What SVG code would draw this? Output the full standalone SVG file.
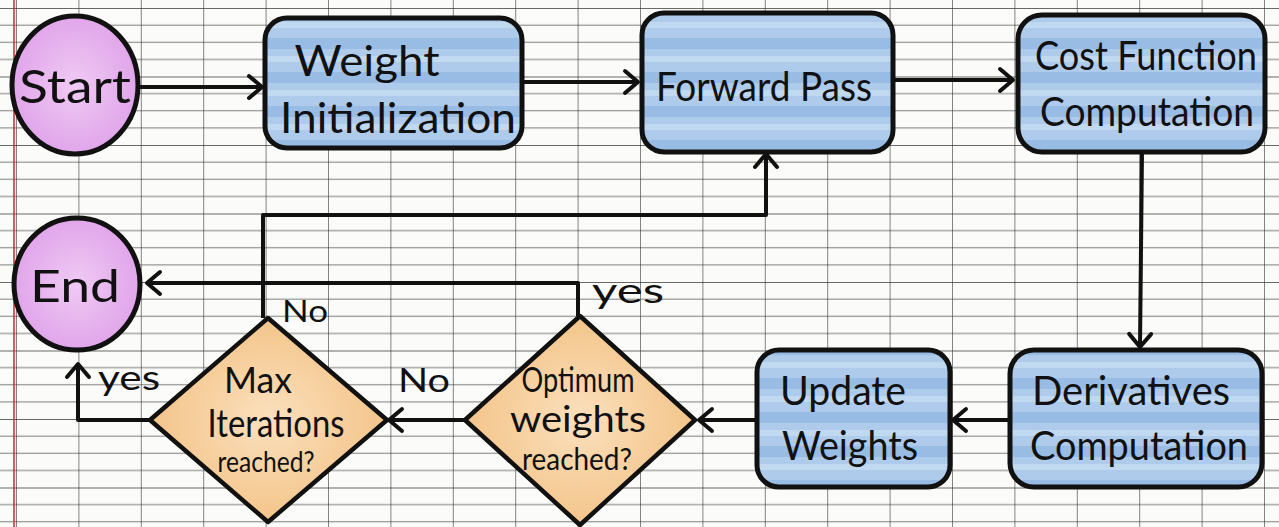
<svg xmlns="http://www.w3.org/2000/svg" width="1279" height="527" viewBox="0 0 1279 527">
<style>
.box{stroke:#111;stroke-width:5;fill:url(#blue)}
.dia{stroke:#111;stroke-width:4.5;fill:url(#orange);stroke-linejoin:round}
.term{stroke:#111;stroke-width:5;fill:url(#pink)}
.conn{stroke:#111;stroke-width:4;fill:none;stroke-linejoin:round;marker-end:url(#arr)}
text{font-family:Lato,"Liberation Sans",sans-serif;fill:#111;text-anchor:middle}
</style>
<defs>
<pattern id="hgrid" patternUnits="userSpaceOnUse" x="0" y="8" width="1279" height="68.5">
<rect x="0" y="-0.9" width="1279" height="1.8" fill="#3a3a3a" opacity="0.85"/>
<rect x="0" y="16.6" width="1279" height="1.1" fill="#555" opacity="0.7"/>
<rect x="0" y="33.7" width="1279" height="1.1" fill="#555" opacity="0.7"/>
<rect x="0" y="50.9" width="1279" height="1.1" fill="#555" opacity="0.7"/>
</pattern>
<pattern id="vgrid" patternUnits="userSpaceOnUse" x="16" y="0" width="62.4" height="527">
<rect x="-0.75" y="0" width="1.5" height="527" fill="#333" opacity="0.8"/>
</pattern>
<pattern id="blue" patternUnits="userSpaceOnUse" x="0" y="0" width="200" height="34">
<rect width="200" height="34" fill="#aecbec"/>
<rect y="4" width="200" height="11" fill="#8fb6e2" opacity="0.7"/>
<rect y="22" width="200" height="6" fill="#c6dbf3" opacity="0.8"/>
</pattern>
<radialGradient id="orange" cx="50%" cy="50%" r="60%">
<stop offset="0" stop-color="#fbe0bd"/>
<stop offset="1" stop-color="#f2bf80"/>
</radialGradient>
<radialGradient id="pink" cx="50%" cy="50%" r="60%">
<stop offset="0" stop-color="#f0caf4"/>
<stop offset="1" stop-color="#dd9ee8"/>
</radialGradient>
<marker id="arr" markerUnits="userSpaceOnUse" viewBox="-20 -15 26 30" refX="0" refY="0" markerWidth="26" markerHeight="30" orient="auto" overflow="visible">
<path d="M-13,-11 L0,0 L-13,11" fill="none" stroke="#111" stroke-width="4" stroke-linecap="round" stroke-linejoin="round"/>
</marker>
</defs>
<rect width="1279" height="527" fill="#fbfbf9"/>
<rect width="1279" height="527" fill="url(#hgrid)"/>
<rect width="1279" height="527" fill="url(#vgrid)"/>
<line x1="14" y1="0" x2="14" y2="527" stroke="#d8202a" stroke-width="1.5"/>

<g id="connectors">
<path class="conn" d="M140,87 L262,87"/>
<path class="conn" d="M522,82 L638,82"/>
<path class="conn" d="M893,80 L1013,80"/>
<path class="conn" d="M1142,152 L1140,347"/>
<path class="conn" d="M1010,420 L953,420"/>
<path class="conn" d="M757,420 L699,420"/>
<path class="conn" d="M465,420 L389,420"/>
<path class="conn" d="M578,316 L578,283 L147,283"/>
<path class="conn" d="M263,318 L263,215 L766,215 L766,154"/>
<path class="conn" d="M150,420 L78,420 L78,364"/>
</g>

<g id="start">
<ellipse class="term" cx="75" cy="85" rx="63" ry="69"/>
<text x="75" y="103" font-size="46" textLength="112" lengthAdjust="spacingAndGlyphs">Start</text>
</g>
<g id="weight-init">
<rect class="box" x="265" y="18" width="257" height="130" rx="22"/>
<text x="367" y="76" font-size="42" textLength="145" lengthAdjust="spacingAndGlyphs">Weight</text>
<text x="398" y="133" font-size="42" textLength="236" lengthAdjust="spacingAndGlyphs">Initialization</text>
</g>
<g id="forward-pass">
<rect class="box" x="642" y="13" width="251" height="139" rx="22"/>
<text x="764" y="101" font-size="40" textLength="216" lengthAdjust="spacingAndGlyphs">Forward Pass</text>
</g>
<g id="cost-function">
<rect class="box" x="1018" y="15" width="247" height="137" rx="24"/>
<text x="1146" y="70" font-size="40" textLength="222" lengthAdjust="spacingAndGlyphs">Cost Function</text>
<text x="1147" y="126" font-size="40" textLength="214" lengthAdjust="spacingAndGlyphs">Computation</text>
</g>
<g id="derivatives">
<rect class="box" x="1010" y="350" width="252" height="137" rx="24"/>
<text x="1131" y="405" font-size="40" textLength="198" lengthAdjust="spacingAndGlyphs">Derivatives</text>
<text x="1139" y="460" font-size="40" textLength="218" lengthAdjust="spacingAndGlyphs">Computation</text>
</g>
<g id="update-weights">
<rect class="box" x="757" y="350" width="193" height="137" rx="22"/>
<text x="843" y="405" font-size="40" textLength="126" lengthAdjust="spacingAndGlyphs">Update</text>
<text x="850" y="460" font-size="40" textLength="136" lengthAdjust="spacingAndGlyphs">Weights</text>
</g>
<g id="optimum">
<polygon class="dia" points="580,316 695,420 580,525 465,420"/>
<text x="578" y="392" font-size="34" textLength="113" lengthAdjust="spacingAndGlyphs">Optimum</text>
<text x="578" y="432" font-size="36" textLength="136" lengthAdjust="spacingAndGlyphs">weights</text>
<text x="577" y="470" font-size="30" textLength="110" lengthAdjust="spacingAndGlyphs">reached?</text>
</g>
<g id="max-iter">
<polygon class="dia" points="268,318 387,420 268,522 150,420"/>
<text x="258" y="393" font-size="36" textLength="68" lengthAdjust="spacingAndGlyphs">Max</text>
<text x="276" y="437" font-size="38" textLength="137" lengthAdjust="spacingAndGlyphs">Iterations</text>
<text x="266" y="472" font-size="28" textLength="97" lengthAdjust="spacingAndGlyphs">reached?</text>
</g>
<g id="end">
<ellipse class="term" cx="77" cy="284" rx="63" ry="66"/>
<text x="75" y="302" font-size="44" textLength="90" lengthAdjust="spacingAndGlyphs">End</text>
</g>
<g id="labels">
<text x="305" y="322" font-size="30" textLength="46" lengthAdjust="spacingAndGlyphs">No</text>
<text x="628" y="303" font-size="34" textLength="72" lengthAdjust="spacingAndGlyphs">yes</text>
<text x="424" y="392" font-size="32" textLength="52" lengthAdjust="spacingAndGlyphs">No</text>
<text x="129" y="390" font-size="34" textLength="62" lengthAdjust="spacingAndGlyphs">yes</text>
</g>
</svg>
